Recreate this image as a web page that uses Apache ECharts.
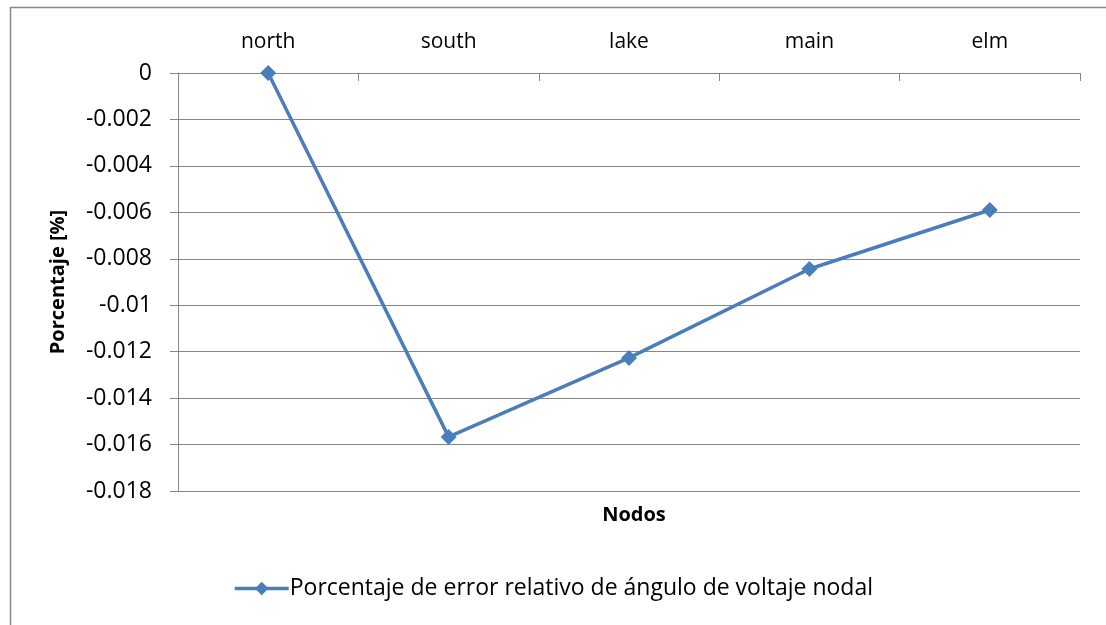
<!DOCTYPE html>
<html>
<head>
<meta charset="utf-8">
<script src="https://cdn.jsdelivr.net/npm/echarts@6/dist/echarts.min.js"></script>
<style>html,body{margin:0;padding:0;background:#fff;}#c{width:1106px;height:625px;}</style>
</head>
<body>
<div id="c"></div>
<script>
const categories = ['north', 'south', 'lake', 'main', 'elm'];
const seriesName = 'Porcentaje de error relativo de ángulo de voltaje nodal';
const values = [0, -0.01567, -0.01227, -0.00844, -0.00590];
const yMin = -0.018, yMax = 0, yStep = 0.002;

const FONT = 'Open Sans';
const chart = echarts.init(document.getElementById('c'));
chart.setOption({
  backgroundColor: '#fff',
  animation: false,
  textStyle: { fontFamily: FONT },
  grid: { left: 178, right: 26, top: 73, bottom: 134 },
  graphic: [{
    type: 'rect',
    shape: { x: 10.5, y: 7.5, width: 1200, height: 700 },
    style: { fill: 'none', stroke: '#888', lineWidth: 1.5 },
    silent: true
  }],
  title: {
    text: 'Nodos',
    left: 629, top: 500,
    textAlign: 'center',
    textStyle: { fontFamily: FONT, fontSize: 20, fontWeight: 'bold', color: '#000' }
  },
  legend: {
    bottom: 20,
    left: 'center',
    itemWidth: 54,
    itemHeight: 17,
    itemGap: 4,
    textStyle: { fontFamily: FONT, fontSize: 23, color: '#000', padding: [0, 0, 0, -4] },
    lineStyle: { width: 3.5 },
    data: [{ name: seriesName }]
  },
  xAxis: {
    type: 'category',
    position: 'top',
    data: categories,
    boundaryGap: true,
    axisLine: { show: true, lineStyle: { color: '#868686', width: 1 } },
    axisTick: { show: true, inside: true, length: 8, lineStyle: { color: '#868686' } },
    axisLabel: { fontFamily: FONT, fontSize: 21, color: '#000', margin: 20 },
    splitLine: { show: false }
  },
  yAxis: {
    type: 'value',
    min: yMin, max: yMax, interval: yStep,
    name: 'Porcentaje [%]',
    nameLocation: 'middle',
    nameGap: 110,
    nameRotate: 90,
    nameTextStyle: { fontFamily: FONT, fontSize: 20, fontWeight: 'bold', color: '#000' },
    axisLine: { show: true, lineStyle: { color: '#868686', width: 1 } },
    axisTick: { show: true, length: 8, lineStyle: { color: '#868686' } },
    axisLabel: {
      fontFamily: FONT, fontSize: 23, color: '#000', margin: 26,
      formatter: v => String(Math.round(v * 1000) / 1000)
    },
    splitLine: { show: true, lineStyle: { color: '#868686', width: 1 } }
  },
  series: [{
    name: seriesName,
    type: 'line',
    data: values,
    symbol: 'diamond',
    symbolSize: 16,
    itemStyle: { color: '#4a7ebb' },
    lineStyle: { color: '#4a7ebb', width: 3.5 }
  }]
});
</script>
</body>
</html>
